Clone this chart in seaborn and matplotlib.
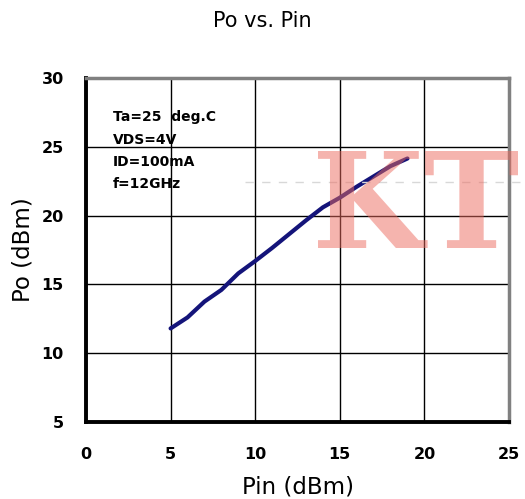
import numpy as np
import pandas as pd
import matplotlib
matplotlib.use("Agg")
import matplotlib.pyplot as plt
import seaborn as sns
from matplotlib.textpath import TextPath
from matplotlib.patches import PathPatch
from matplotlib.font_manager import FontProperties
from matplotlib.transforms import Affine2D

# --- DATA ---
PIN_DBM = [5, 6, 7, 8, 9, 10, 11, 12, 13, 14, 15, 16, 17, 18, 19]
PO_DBM = [11.8, 12.6, 13.75, 14.6, 15.8, 16.7, 17.65, 18.65, 19.65,
          20.6, 21.3, 22.1, 22.85, 23.6, 24.15]
X_TICKS = [0, 5, 10, 15, 20, 25]
Y_TICKS = [5, 10, 15, 20, 25, 30]
NOTE_LINES = ["Ta=25  deg.C", "VDS=4V", "ID=100mA", "f=12GHz"]

W, H = 525, 499

df = pd.DataFrame({"Pin": PIN_DBM, "Po": PO_DBM})

sns.set_theme(style="white")
plt.rcParams['font.family'] = ['DejaVu Sans']
plt.rcParams['text.color'] = 'black'
plt.rcParams['axes.labelcolor'] = 'black'

fig = plt.figure(figsize=(W / 100, H / 100), dpi=100)
ax = fig.add_axes([86 / W, 1 - 422 / H, (509 - 86) / W, (422 - 78) / H])

sns.lineplot(data=df, x="Pin", y="Po", ax=ax, color="#14147a", linewidth=3.0)

ax.set_xlim(0, 25)
ax.set_ylim(5, 30)
ax.set_xticks(X_TICKS)
ax.set_yticks(Y_TICKS)
ax.grid(True, color="black", linewidth=1.0)
ax.tick_params(direction="in", length=4, width=2, labelsize=11.5, colors="black")
ax.tick_params(axis="x", pad=18)
ax.tick_params(axis="y", pad=16)
for lab in ax.get_xticklabels() + ax.get_yticklabels():
    lab.set_fontweight("bold")

for s in ["left", "bottom"]:
    ax.spines[s].set_color("black")
    ax.spines[s].set_linewidth(2.8)
for s in ["top", "right"]:
    ax.spines[s].set_color("#808080")
    ax.spines[s].set_linewidth(2.5)

ax.set_xlabel("Pin (dBm)", fontsize=16.5, labelpad=10)
ax.set_ylabel("Po (dBm)", fontsize=16.5, labelpad=5)

fig.text(0.5, 1 - 21 / H, "Po vs. Pin", ha="center", va="center", fontsize=15)

for i, line in enumerate(NOTE_LINES):
    fig.text(113 / W, 1 - (117 + 22.5 * i) / H, line,
             fontsize=10, fontweight="bold", va="center", ha="left")

# watermark: dashed trace + "KT" stretched into its box
fig.lines.append(plt.Line2D([245 / W, 1.0], [1 - 182 / H] * 2,
                            transform=fig.transFigure, color="#d8d8d8",
                            linewidth=1, linestyle=(0, (6, 6))))
tp = TextPath((0, 0), "KT", size=100,
              prop=FontProperties(family="DejaVu Serif", weight="bold"))
ext = tp.get_extents()
x0, x1, y0, y1 = 318, 518, 151, 248
sx = (x1 - x0) / W / ext.width
sy = (y1 - y0) / H / ext.height
tr = (Affine2D().translate(-ext.x0, -ext.y0).scale(sx, sy)
      .translate(x0 / W, 1 - y1 / H) + fig.transFigure)
fig.patches.append(PathPatch(tp, transform=tr, facecolor="#ec6a5e",
                             edgecolor="none", alpha=0.5, zorder=10))

fig.savefig("out.png", dpi=100)
